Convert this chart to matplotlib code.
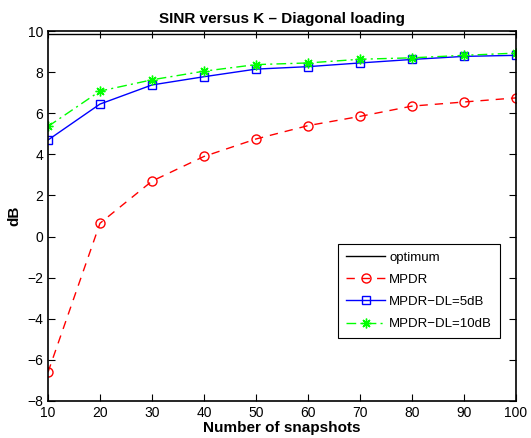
import matplotlib
matplotlib.use("Agg")
import matplotlib.pyplot as plt
import numpy as np

plt.rcParams['font.family'] = ['Liberation Sans', 'DejaVu Sans']

# number of snapshots K
snapshots = [10, 20, 30, 40, 50, 60, 70, 80, 90, 100]
# SINR in dB
sinr_opt = [9.85] * 10
sinr_mpdr = [-6.6, 0.65, 2.7, 3.9, 4.75, 5.4, 5.85, 6.35, 6.55, 6.75]
sinr_dl5 = [4.7, 6.45, 7.38, 7.78, 8.15, 8.27, 8.45, 8.62, 8.77, 8.82]
sinr_dl10 = [5.36, 7.08, 7.63, 8.05, 8.37, 8.45, 8.63, 8.7, 8.82, 8.93]

fig = plt.figure(figsize=(5.31, 4.38), dpi=100)
ax = fig.add_axes([0.0904, 0.0845, 0.8814, 0.8445])

ax.plot(snapshots, sinr_opt, color='black', lw=1, label='optimum')
ax.plot(snapshots, sinr_mpdr, color='red', ls='--', lw=1, marker='o', ms=6.5,
        mfc='none', mew=1, label='MPDR', dashes=(6, 5))
ax.plot(snapshots, sinr_dl5, color='blue', ls='-', lw=1, marker='s', ms=5.5,
        mfc='none', mew=1, label='MPDR\u2212DL=5dB')
ax.plot(snapshots, sinr_dl10, color=(0, 1, 0), ls='-.', lw=1, marker=(8, 2, 0), ms=7,
        mew=1, label='MPDR\u2212DL=10dB', dashes=(7, 3, 1.5, 3))

ax.set_xlim(10, 100)
ax.set_ylim(-8, 10)
ax.set_xticks(np.arange(10, 101, 10))
ax.set_yticks(np.arange(-8, 11, 2))
ax.tick_params(direction='in', top=True, right=True, labelsize=10, length=5, width=0.8)
for s in ax.spines.values():
    s.set_linewidth(1.2)

ax.set_title('SINR versus K \u2013 Diagonal loading', fontsize=11, fontweight='bold', pad=6)
ax.set_xlabel('Number of snapshots', fontsize=11, fontweight='bold', labelpad=1)
ax.set_ylabel('dB', fontsize=11, fontweight='bold', labelpad=4)

leg = ax.legend(loc='lower right', bbox_to_anchor=(0.966, 0.17), fontsize=9.5,
                frameon=True, fancybox=False, edgecolor='black', framealpha=1,
                handlelength=3.0, borderpad=0.6, labelspacing=0.75, handletextpad=0.3,
                numpoints=1, borderaxespad=0)
leg.get_frame().set_linewidth(0.8)

fig.savefig('out.png', dpi=100)
